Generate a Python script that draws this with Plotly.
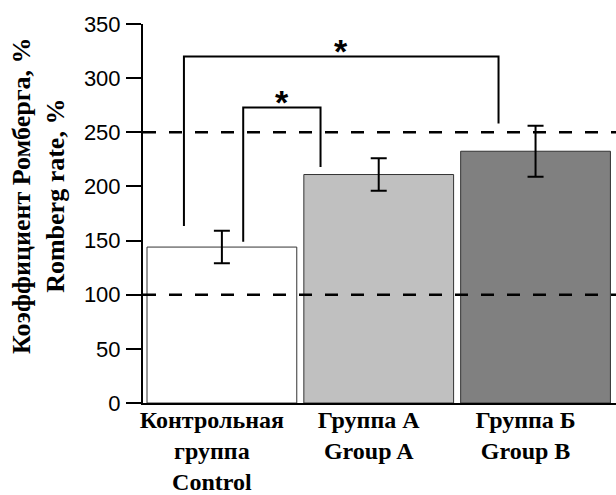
import plotly.graph_objects as go

# ---- data ----
categories = ["Контрольная<br>группа<br>Control", "Группа А<br>Group A", "Группа Б<br>Group B"]
values = [144, 211, 232.5]
errors = [15, 15, 23.5]
bar_colors = ["#ffffff", "#c0c0c0", "#808080"]
y_ticks = [0, 50, 100, 150, 200, 250, 300, 350]
ref_lines = [100, 250]
# significance brackets: (x_left, y_left_bottom, x_right, y_right_bottom, y_top)
brackets = [
    (0.136, 149, 0.629, 218, 273),
    (-0.242, 163.5, 1.764, 258, 320),
]
star_text = "*"
y_title = "Коэффициент Ромберга, %<br>Romberg rate, %"

x_idx = list(range(len(categories)))

fig = go.Figure()
fig.add_trace(go.Bar(
    x=x_idx, y=values,
    marker=dict(color=bar_colors, line=dict(color="#333333", width=1)),
    error_y=dict(type="data", array=errors, visible=True, color="black",
                 thickness=2, width=8),
    width=0.955,
    showlegend=False,
))

shapes = []
for yv in ref_lines:
    shapes.append(dict(type="line", xref="paper", yref="y", x0=0, x1=1, y0=yv, y1=yv,
                       line=dict(color="black", width=2.5, dash="13px,13px"), layer="above"))
annotations = []
for (xl, yl, xr, yr, yt) in brackets:
    shapes.append(dict(type="path", xref="x", yref="y",
                       path=f"M {xl},{yl} L {xl},{yt} L {xr},{yt} L {xr},{yr}",
                       line=dict(color="black", width=2)))
    annotations.append(dict(x=(xl + xr) / 2, y=yt, xref="x", yref="y", text=star_text,
                            showarrow=False, yanchor="bottom", yshift=-16,
                            font=dict(family="Liberation Sans", size=34, color="black", weight="bold")))

annotations.append(dict(x=(39 - 143) / 473, y=(403 - 196) / 379, xref="paper", yref="paper",
                        text=y_title, textangle=-90, showarrow=False,
                        xanchor="center", yanchor="middle",
                        font=dict(family="Liberation Serif", size=26, color="black", weight="bold")))

fig.update_layout(
    width=616, height=495,
    margin=dict(l=143, r=0, t=24, b=92),
    paper_bgcolor="white", plot_bgcolor="white",
    shapes=shapes, annotations=annotations,
    xaxis=dict(range=[-0.503, 2.513], tickvals=x_idx, ticktext=categories,
               showline=True, linecolor="black", linewidth=2, ticks="",
               showgrid=False, zeroline=False, ticklabelshift=-10, ticklabelstandoff=-6,
               automargin=False,
               tickfont=dict(family="Liberation Serif", size=24, color="black", weight="bold")),
    yaxis=dict(range=[0, 350], tickvals=y_ticks, showline=True, linecolor="black", linewidth=2,
               ticks="outside", ticklen=15, tickwidth=2, tickcolor="black",
               showgrid=False, zeroline=False, ticklabelstandoff=1, automargin=False,
               tickfont=dict(family="Liberation Sans", size=22, color="black")),
)

fig.write_html("out.html")
